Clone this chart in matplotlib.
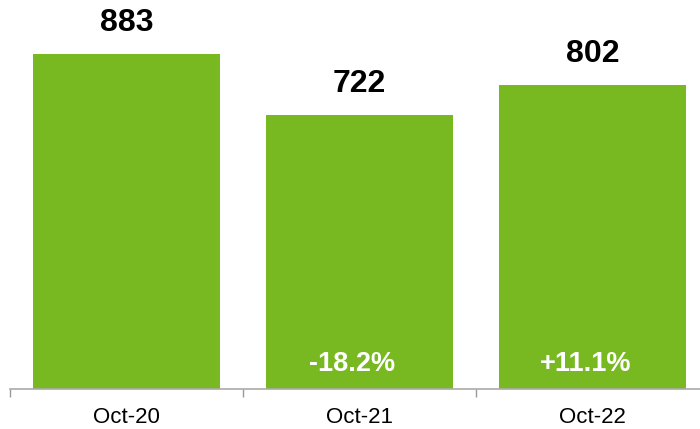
import matplotlib.pyplot as plt

plt.rcParams['font.family'] = ['Liberation Sans', 'DejaVu Sans']

months = ['Oct-20', 'Oct-21', 'Oct-22']
values = [883, 722, 802]
changes = ['', '-18.2%', '+11.1%']

green = '#78b921'

fig = plt.figure(figsize=(7, 4.29), dpi=100)
ax = fig.add_axes([10 / 700, 40 / 429, 699 / 700, 389 / 429])

x = range(len(months))
bars = ax.bar(x, values, width=0.8, color=green)

for b, v, c in zip(bars, values, changes):
    cx = b.get_x() + b.get_width() / 2
    ax.annotate(str(v), (cx, v), xytext=(0, 31), textcoords='offset pixels',
                ha='center', va='center', fontsize=23, fontweight='bold')
    if c:
        # change labels sit a little left of the bar centre
        ax.annotate(c, (cx, 0), xytext=(-7, 25), textcoords='offset pixels',
                    ha='center', va='center', fontsize=19.5, fontweight='bold',
                    color='white')

ax.set_xlim(-0.5, 2.5)
ax.set_ylim(0, 1025)
ax.set_yticks([])
ax.set_xticks(list(x))
ax.set_xticklabels(months, fontsize=16)
ax.set_xticks([-0.5, 0.5, 1.5, 2.5], minor=True)
ax.tick_params(axis='x', which='major', length=0, pad=13)
ax.tick_params(axis='x', which='minor', length=6, color='#999999', width=1)

for s in ['top', 'right', 'left']:
    ax.spines[s].set_visible(False)
ax.spines['bottom'].set_color('#aaaaaa')
ax.spines['bottom'].set_linewidth(1.2)

fig.savefig('out.png', dpi=100)
